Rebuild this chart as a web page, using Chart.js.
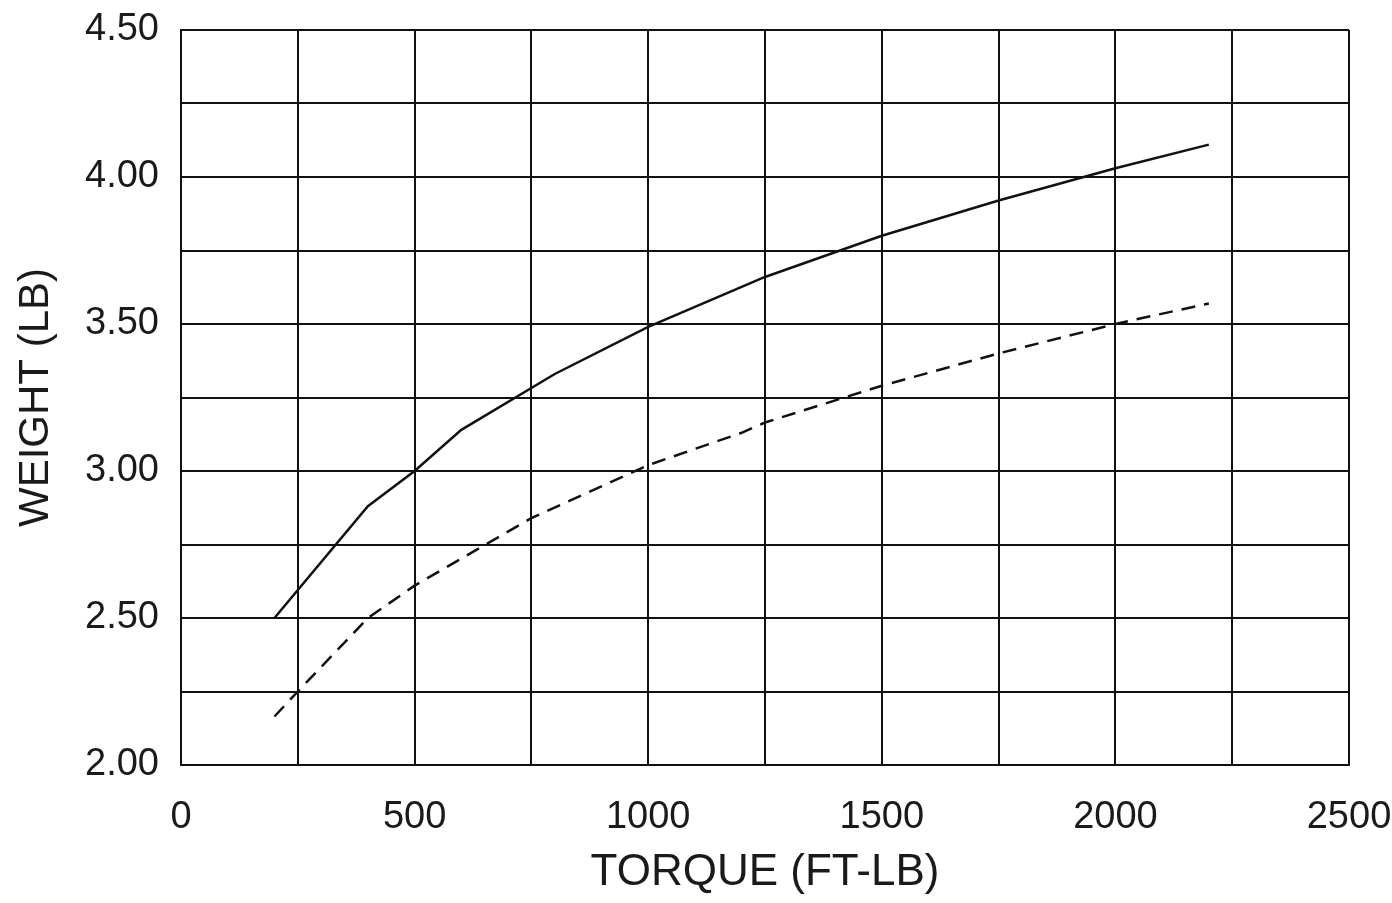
<!DOCTYPE html>
<html>
<head>
<meta charset="utf-8">
<script src="https://cdn.jsdelivr.net/npm/chart.js@4"></script>
<style>
  html, body { margin: 0; padding: 0; background: #ffffff; }
  #wrap { width: 1392px; height: 903px; }
</style>
</head>
<body>
<div id="wrap"><canvas id="c" width="1392" height="903"></canvas></div>
<script>
// Data
const solidTorque = [200, 400, 500, 600, 800, 1000, 1250, 1500, 1750, 2000, 2200];
const solidWeight = [2.50, 2.88, 3.00, 3.14, 3.33, 3.49, 3.66, 3.80, 3.92, 4.03, 4.11];
const dashedTorque = [200, 250, 400, 500, 750, 1000, 1200, 1250, 1500, 1750, 2000, 2200];
const dashedWeight = [2.165, 2.25, 2.50, 2.61, 2.84, 3.02, 3.13, 3.165, 3.29, 3.40, 3.50, 3.57];
const xTickLabels = ['0', '500', '1000', '1500', '2000', '2500'];
const yTickLabels = ['2.00', '2.50', '3.00', '3.50', '4.00', '4.50'];
const xTitle = 'TORQUE (FT-LB)';
const yTitle = 'WEIGHT (LB)';

const toPts = (xs, ys) => xs.map((x, i) => ({ x: x, y: ys[i] }));

const FONT = 'Liberation Sans, Arial, sans-serif';
const INK = '#1a1a1a';

new Chart(document.getElementById('c'), {
  type: 'line',
  data: {
    datasets: [
      {
        data: toPts(solidTorque, solidWeight),
        borderColor: '#111',
        borderWidth: 2.5,
        pointRadius: 0,
        tension: 0,
        fill: false
      },
      {
        data: toPts(dashedTorque, dashedWeight),
        borderColor: '#111',
        borderWidth: 2.5,
        borderDash: [14, 9],
        pointRadius: 0,
        tension: 0,
        fill: false
      }
    ]
  },
  options: {
    responsive: false,
    animation: false,
    devicePixelRatio: 1,
    layout: { padding: { top: 30, right: 43, left: 11, bottom: 4 } },
    plugins: { legend: { display: false }, tooltip: { enabled: false } },
    scales: {
      x: {
        type: 'linear',
        min: 0, max: 2500,
        afterFit: (s) => { s.height = 134; s.paddingLeft = 0; s.paddingRight = 0; },
        border: { color: '#111', width: 2 },
        grid: { color: '#111', lineWidth: 2, drawTicks: false },
        ticks: {
          stepSize: 250,
          padding: 30,
          color: INK,
          font: { family: FONT, size: 38 },
          maxRotation: 0,
          autoSkip: false,
          callback: (v) => {
            const i = Math.round(v / 500);
            return Math.abs(v - i * 500) < 1e-6 ? xTickLabels[i] : '';
          }
        },
        title: {
          display: true,
          text: xTitle,
          color: INK,
          font: { family: FONT, size: 44 },
          padding: { top: 0, bottom: 0 }
        }
      },
      y: {
        type: 'linear',
        min: 2.0, max: 4.5,
        afterFit: (s) => { s.width = 170; s.paddingTop = 0; s.paddingBottom = 0; },
        border: { color: '#111', width: 2 },
        grid: { color: '#111', lineWidth: 2, drawTicks: false },
        ticks: {
          stepSize: 0.25,
          padding: 22,
          color: INK,
          font: { family: FONT, size: 38 },
          autoSkip: false,
          callback: (v) => {
            const i = Math.round((v - 2) / 0.5);
            return Math.abs(v - 2 - i * 0.5) < 1e-6 ? yTickLabels[i] : '';
          }
        },
        title: {
          display: true,
          text: yTitle,
          color: INK,
          font: { family: FONT, size: 42 },
          padding: { top: 0, bottom: 0 }
        }
      }
    }
  }
});
</script>
</body>
</html>
